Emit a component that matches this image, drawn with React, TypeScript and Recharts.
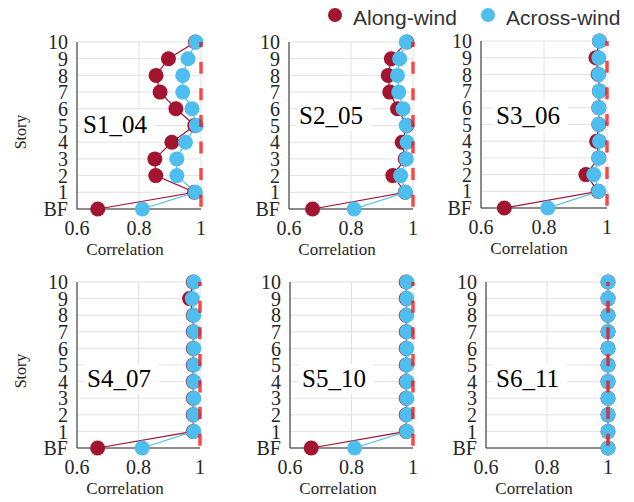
import {
  CartesianGrid,
  Scatter,
  ScatterChart,
  XAxis,
  YAxis,
} from "recharts";

const ALONG_COLOR = "#A2142F";
const ACROSS_COLOR = "#4DBEEE";
const SERIF = "Liberation Serif, DejaVu Serif, Times New Roman, serif";
const SANS = "Liberation Sans, Arial, sans-serif";

// stories from BF (0) up to 10
const stories = [0, 1, 2, 3, 4, 5, 6, 7, 8, 9, 10];
const storyLabels = ["BF", "1", "2", "3", "4", "5", "6", "7", "8", "9", "10"];
const corrTicks = [0.6, 0.8, 1];
const panelNames = ["S1_04", "S2_05", "S3_06", "S4_07", "S5_10", "S6_11"];

// correlation values, BF -> 10
const alongS1 = [0.667, 0.979, 0.854, 0.851, 0.906, 0.98, 0.919, 0.868, 0.855, 0.895, 0.982];
const acrossS1 = [0.811, 0.982, 0.922, 0.922, 0.95, 0.985, 0.971, 0.941, 0.941, 0.958, 0.984];
const alongS2 = [0.676, 0.975, 0.935, 0.975, 0.965, 0.98, 0.95, 0.925, 0.92, 0.93, 0.98];
const acrossS2 = [0.81, 0.976, 0.96, 0.978, 0.981, 0.978, 0.968, 0.954, 0.95, 0.957, 0.978];
const alongS3 = [0.674, 0.972, 0.933, 0.974, 0.967, 0.974, 0.974, 0.976, 0.972, 0.965, 0.976];
const acrossS3 = [0.812, 0.974, 0.958, 0.974, 0.976, 0.974, 0.974, 0.976, 0.974, 0.974, 0.976];
const alongS4 = [0.667, 0.978, 0.978, 0.978, 0.978, 0.978, 0.978, 0.978, 0.978, 0.966, 0.978];
const acrossS4 = [0.812, 0.98, 0.98, 0.98, 0.98, 0.98, 0.98, 0.98, 0.98, 0.975, 0.98];
const alongS5 = [0.669, 0.978, 0.978, 0.978, 0.978, 0.978, 0.978, 0.978, 0.978, 0.978, 0.978];
const acrossS5 = [0.81, 0.98, 0.98, 0.98, 0.98, 0.98, 0.98, 0.98, 0.98, 0.98, 0.98];
const alongS6 = [1, 1, 1, 1, 1, 1, 1, 1, 1, 1, 1];
const acrossS6 = [1, 1, 1, 1, 1, 1, 1, 1, 1, 1, 1];

// perfect-correlation reference (BF and top story)
const refLine = [
  { x: 1, y: 0 },
  { x: 1, y: 10 },
];

const alongAll = [alongS1, alongS2, alongS3, alongS4, alongS5, alongS6];
const acrossAll = [acrossS1, acrossS2, acrossS3, acrossS4, acrossS5, acrossS6];

// plot rectangles (page px) and label placement
const panels = [
  { left: 77, top: 42, w: 124, h: 167, labelX: 83, labelBase: 133, storyTitle: true },
  { left: 289, top: 42, w: 124, h: 167, labelX: 299, labelBase: 124, storyTitle: false },
  { left: 481, top: 41, w: 126, h: 167, labelX: 496, labelBase: 124, storyTitle: false },
  { left: 77, top: 282, w: 123, h: 166, labelX: 87, labelBase: 387, storyTitle: true },
  { left: 290, top: 282, w: 123, h: 166, labelX: 302, labelBase: 387, storyTitle: false },
  { left: 486, top: 282, w: 122, h: 166, labelX: 496, labelBase: 387, storyTitle: false },
];

const Y_AXIS_W = 50;
const M_TOP = 10;
const M_RIGHT = 14;
const X_AXIS_H = 34;

const toPoints = (vals: number[]) => vals.map((v, i) => ({ x: v, y: stories[i] }));

const dot = (color: string) => (p: any) => <circle cx={p.cx} cy={p.cy} r={7.5} fill={color} />;
const noDot = () => <g />;

function Panel({ idx }: { idx: number }) {
  const p = panels[idx];
  const width = Y_AXIS_W + p.w + M_RIGHT;
  const height = M_TOP + p.h + X_AXIS_H;
  const tickStyle = { fontSize: 20, fontFamily: SERIF, fill: "#262626" };
  return (
    <>
      <div style={{ position: "absolute", left: p.left - Y_AXIS_W, top: p.top - M_TOP }}>
        <ScatterChart width={width} height={height} margin={{ top: M_TOP, right: M_RIGHT, bottom: 0, left: 0 }}>
          <CartesianGrid stroke="#e2e2e2" strokeWidth={1} />
          <XAxis
            type="number"
            dataKey="x"
            domain={[0.6, 1]}
            ticks={corrTicks}
            interval={0}
            height={X_AXIS_H}
            tickLine={false}
            tickSize={0}
            tickMargin={12}
            axisLine={{ stroke: "#262626" }}
            tick={tickStyle}
            tickFormatter={(v: number) => (v === 1 ? "1" : v.toFixed(1))}
          />
          <YAxis
            type="number"
            dataKey="y"
            domain={[0, 10]}
            ticks={stories}
            interval={0}
            width={Y_AXIS_W}
            tickLine={false}
            tickSize={0}
            tickMargin={9}
            axisLine={{ stroke: "#262626" }}
            tick={tickStyle}
            tickFormatter={(v: number) => storyLabels[v]}
          />
          <Scatter
            data={toPoints(alongAll[idx])}
            fill={ALONG_COLOR}
            line={{ stroke: ALONG_COLOR, strokeWidth: 1.2 }}
            shape={dot(ALONG_COLOR)}
            isAnimationActive={false}
          />
          <Scatter
            data={toPoints(acrossAll[idx])}
            fill={ACROSS_COLOR}
            line={{ stroke: ACROSS_COLOR, strokeWidth: 1.2 }}
            shape={dot(ACROSS_COLOR)}
            isAnimationActive={false}
          />
          <Scatter
            data={refLine}
            fill="none"
            line={{
              stroke: "#ff0000",
              strokeOpacity: 0.71,
              strokeWidth: 3.5,
              strokeDasharray: "12 14.6",
              strokeDashoffset: 24.3,
            }}
            shape={noDot}
            isAnimationActive={false}
          />
        </ScatterChart>
      </div>
      <div
        style={{
          position: "absolute",
          left: p.labelX - 3,
          top: p.labelBase - 23,
          padding: "2px 8px 3px 3px",
          background: "#fff",
          fontFamily: SERIF,
          fontSize: 25,
          lineHeight: 1,
          color: "#000",
          whiteSpace: "nowrap",
        }}
      >
        {panelNames[idx]}
      </div>
      <div
        style={{
          position: "absolute",
          left: p.left + 48,
          top: p.top + p.h + 40,
          transform: "translate(-50%, -50%)",
          fontFamily: SERIF,
          fontSize: 17,
          lineHeight: 1,
          color: "#262626",
          whiteSpace: "nowrap",
        }}
      >
        Correlation
      </div>
      {p.storyTitle && (
        <div
          style={{
            position: "absolute",
            left: 21,
            top: p.top + p.h / 2 + 6,
            transform: "translate(-50%, -50%) rotate(-90deg)",
            fontFamily: SERIF,
            fontSize: 16,
            lineHeight: 1,
            color: "#262626",
            whiteSpace: "nowrap",
          }}
        >
          Story
        </div>
      )}
    </>
  );
}

function LegendItem({ x, color, label }: { x: number; color: string; label: string }) {
  return (
    <>
      <div
        style={{
          position: "absolute",
          left: x - 7,
          top: 15 - 7,
          width: 14,
          height: 14,
          borderRadius: "50%",
          background: color,
        }}
      />
      <div
        style={{
          position: "absolute",
          left: x + 18,
          top: 17,
          transform: "translateY(-50%)",
          fontFamily: SANS,
          fontSize: 21,
          lineHeight: 1,
          color: "#333",
          whiteSpace: "nowrap",
        }}
      >
        {label}
      </div>
    </>
  );
}

export default function App() {
  return (
    <div style={{ position: "absolute", left: 0, top: 0, width: 634, height: 502, background: "#fff" }}>
      {panels.map((_, i) => (
        <Panel key={i} idx={i} />
      ))}
      <LegendItem x={335} color={ALONG_COLOR} label="Along-wind" />
      <LegendItem x={488} color={ACROSS_COLOR} label="Across-wind" />
    </div>
  );
}
